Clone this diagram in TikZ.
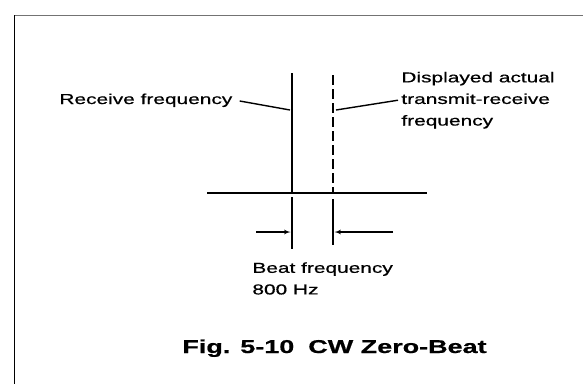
\documentclass[tikz,border=0pt]{standalone}
\usepackage{fontspec}
\newfontfamily\figfont{Liberation Sans}[FakeStretch=1.45,FakeBold=0.6]
\usetikzlibrary{arrows}
\def\lbl{\figfont\fontsize{14.4}{21.6}\selectfont}
\def\figcap{\figfont\bfseries\fontsize{18.6}{22}\selectfont}

\begin{document}
\begin{tikzpicture}[x=1pt,y=-1pt,style=thick,shorten >=0pt,shorten <=0pt,>=latex',
    txt/.style={inner sep=3pt,font=\lbl,align=left}]

    \useasboundingbox (0,0) rectangle (583,384);

    % frame of the figure
    \draw[black!55,line width=1.2pt] (583,15.5) -- (14.5,15.5);
    \draw[line width=1.6pt] (14.5,15) -- (14.5,384);

    \begin{scope}[line width=2pt]
        \coordinate (axL) at (207,193);
        \coordinate (axR) at (427,193);
        \coordinate (rxtop) at (292,73);
        \coordinate (rxbot) at (292,193);
        \coordinate (txtop) at (333,75);
        \coordinate (txbot) at (333,193);
        \draw (axL) -- (axR);
        \draw (rxtop) -- (rxbot);
        \draw[line width=2.2pt,dash pattern=on 10pt off 4pt] (txtop) -- (txbot);
    \end{scope}

    % beat markers below the axis
    \coordinate (rxm1) at (292,197);
    \coordinate (rxm2) at (292,249);
    \coordinate (txm1) at (333,199);
    \coordinate (txm2) at (333,245);
    \draw[line width=1.5pt] (rxm1) -- (rxm2);
    \draw[line width=1.5pt] (txm1) -- (txm2);
    \coordinate (beatL) at (256,232);
    \coordinate (beatR) at (393,232);
    \coordinate (rxhit) at (290.5,232);
    \coordinate (txhit) at (334.5,232);
    \draw[->,line width=1.2pt] (beatL) -- (rxhit);
    \draw[->,line width=1.2pt] (beatR) -- (txhit);

    % labels
    \node[txt,anchor=base west] (recv) at (56,104) {Receive frequency};
    \node[txt,anchor=north west] (disp) at (398,68.5) {Displayed actual\\transmit-receive\\frequency};
    \node[txt,anchor=north west] (beat) at (249,259) {Beat frequency\\800 Hz};
    \coordinate (rxmark) at (290,110);
    \coordinate (txmark) at (336,110);
    \draw[line width=1.4pt,shorten <=4pt] (recv.east) -- (rxmark);
    \draw[line width=1.4pt] (txmark) -- (disp.west);

    \node[inner sep=3pt,anchor=base west,font=\figcap] (title) at (179,353) {Fig. 5-10\hspace{14pt}CW Zero-Beat};

\end{tikzpicture}
\end{document}
